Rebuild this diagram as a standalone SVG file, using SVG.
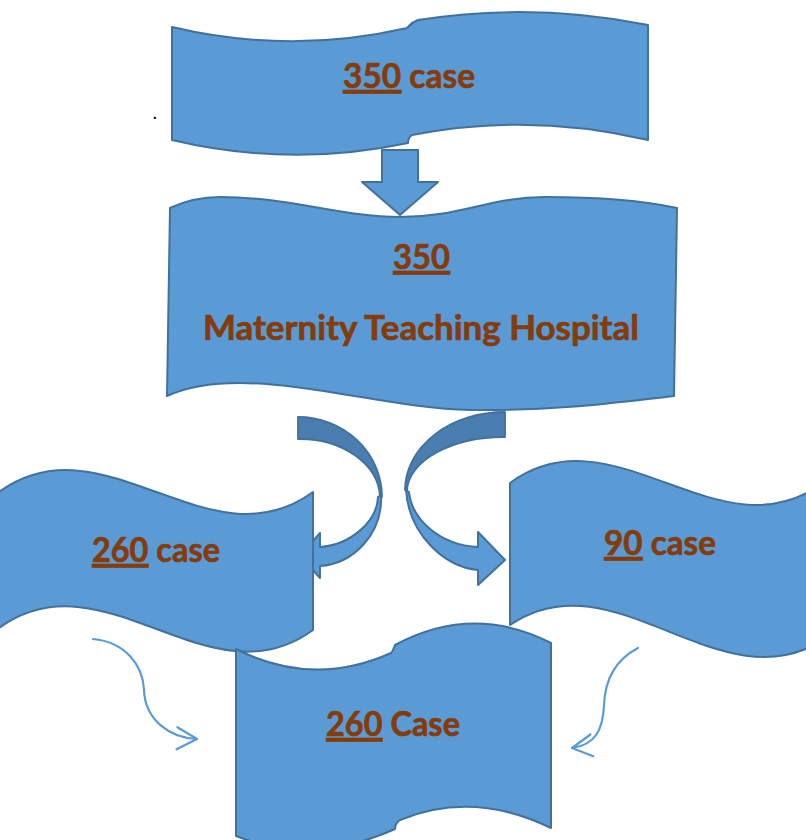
<svg xmlns="http://www.w3.org/2000/svg" width="806" height="840" viewBox="0 0 806 840">
  <style>
    .shape { fill: #5b9bd5; stroke: #41719c; stroke-width: 2; stroke-linejoin: round; }
    .back { fill: #4a7db0; stroke: #41719c; stroke-width: 1.8; stroke-linejoin: round; }
    .thin { fill: none; stroke: #5b9bd5; stroke-width: 2.2; stroke-linecap: round; }
    .label { font-family: Lato, "Liberation Sans", sans-serif; font-weight: bold; font-size: 35px; fill: #843c0c; stroke: #843c0c; stroke-width: 0.7px; }
    .u { text-decoration: underline; }
  </style>
  <defs>
    <marker id="open-head" markerUnits="userSpaceOnUse" markerWidth="24" markerHeight="26" viewBox="0 0 24 26" refX="22" refY="13" orient="auto">
      <path d="M2,2 L22,13 L2,24" fill="none" stroke="#5b9bd5" stroke-width="2.2" stroke-linecap="round" stroke-linejoin="round"/>
    </marker>
  </defs>

  <!-- stray period -->
  <text x="152" y="119" font-family="Liberation Sans, sans-serif" font-size="20" fill="#000">.</text>

  <!-- top scroll: 350 case -->
  <g id="node-top">
    <path class="shape" d="M172,27 Q290,55 407,28 C410,25 412,22 418,20 Q532,2 648,25 L648,140 Q530,112 412,135 C409,137 408,140 408,143 Q290,168 172,140 Z"/>
    <text class="label" x="343" y="88" textLength="132" lengthAdjust="spacingAndGlyphs"><tspan class="u">350</tspan> case</text>
  </g>

  <!-- hospital banner -->
  <g id="node-hospital">
    <path class="shape" d="M170,208 C185,201 200,197 220,197 C290,197 340,217 400,217 C460,217 490,197 545,197 C600,197 645,201 677,208 L674,396 C620,402 560,411 470,410 C400,409 310,383 240,383 C200,383 180,390 167,396 Z"/>
    <text class="label" x="393" y="269" textLength="57" lengthAdjust="spacingAndGlyphs"><tspan class="u">350</tspan></text>
    <text class="label" x="203" y="340" textLength="436" lengthAdjust="spacingAndGlyphs">Maternity Teaching Hospital</text>
  </g>

  <g id="connectors">
    <!-- straight block arrow down -->
    <polygon class="shape" points="382,150 418,150 418,182 438,182 400,215 362,182 382,182"/>

    <!-- curved arrow to the left branch -->
    <path class="back" d="M298,417 A84,80 0 0 1 382,497 L380,497 A80,60 0 0 0 298,439 Z"/>
    <path class="shape" d="M381,495 C383,535 352,564 320,566 L320,578 L300,556 L320,533 L320,547 C350,545 377,522 378,497 Z"/>

    <!-- curved arrow to the right branch -->
    <path class="back" d="M505,412 A100,78 0 0 0 405,490 L407,490 A97,55 0 0 1 505,437 Z"/>
    <path class="shape" d="M406,490 C409,535 445,567 478,570 L478,585 L505,560 L478,532 L478,547 C440,545 412,520 409,492 Z"/>

    <!-- thin curved arrows into the final box -->
    <path class="thin" marker-end="url(#open-head)" d="M93,639 C125,642 143,665 144,690 C145,720 170,738 197,739"/>
    <path class="thin" marker-end="url(#open-head)" d="M638,648 C615,660 605,680 604,705 C603,730 595,745 572,748"/>
  </g>

  <!-- left wave: 260 case -->
  <g id="node-left">
    <path class="shape" d="M-1,492 C104,416 209,568 313,492 L313,630 C209,706 104,552 -1,628 Z"/>
    <text class="label" x="92" y="562" textLength="128" lengthAdjust="spacingAndGlyphs"><tspan class="u">260</tspan> case</text>
  </g>

  <!-- right wave: 90 case -->
  <g id="node-right">
    <path class="shape" d="M510,483 C614,407 719,559 823,483 L823,640 C719,706 614,554 510,625 Z"/>
    <text class="label" x="604" y="555" textLength="112" lengthAdjust="spacingAndGlyphs"><tspan class="u">90</tspan> case</text>
  </g>

  <!-- bottom scroll: 260 Case -->
  <g id="node-bottom">
    <path class="shape" d="M236,649 Q313,688 391,653 C393,651 394,648 395,645 Q473,603 551,643 L551,828 Q473,790 400,820 C397,822 395,825 395,829 Q313,866 236,836 Z"/>
    <text class="label" x="326" y="736" textLength="134" lengthAdjust="spacingAndGlyphs"><tspan class="u">260</tspan> Case</text>
  </g>
</svg>
